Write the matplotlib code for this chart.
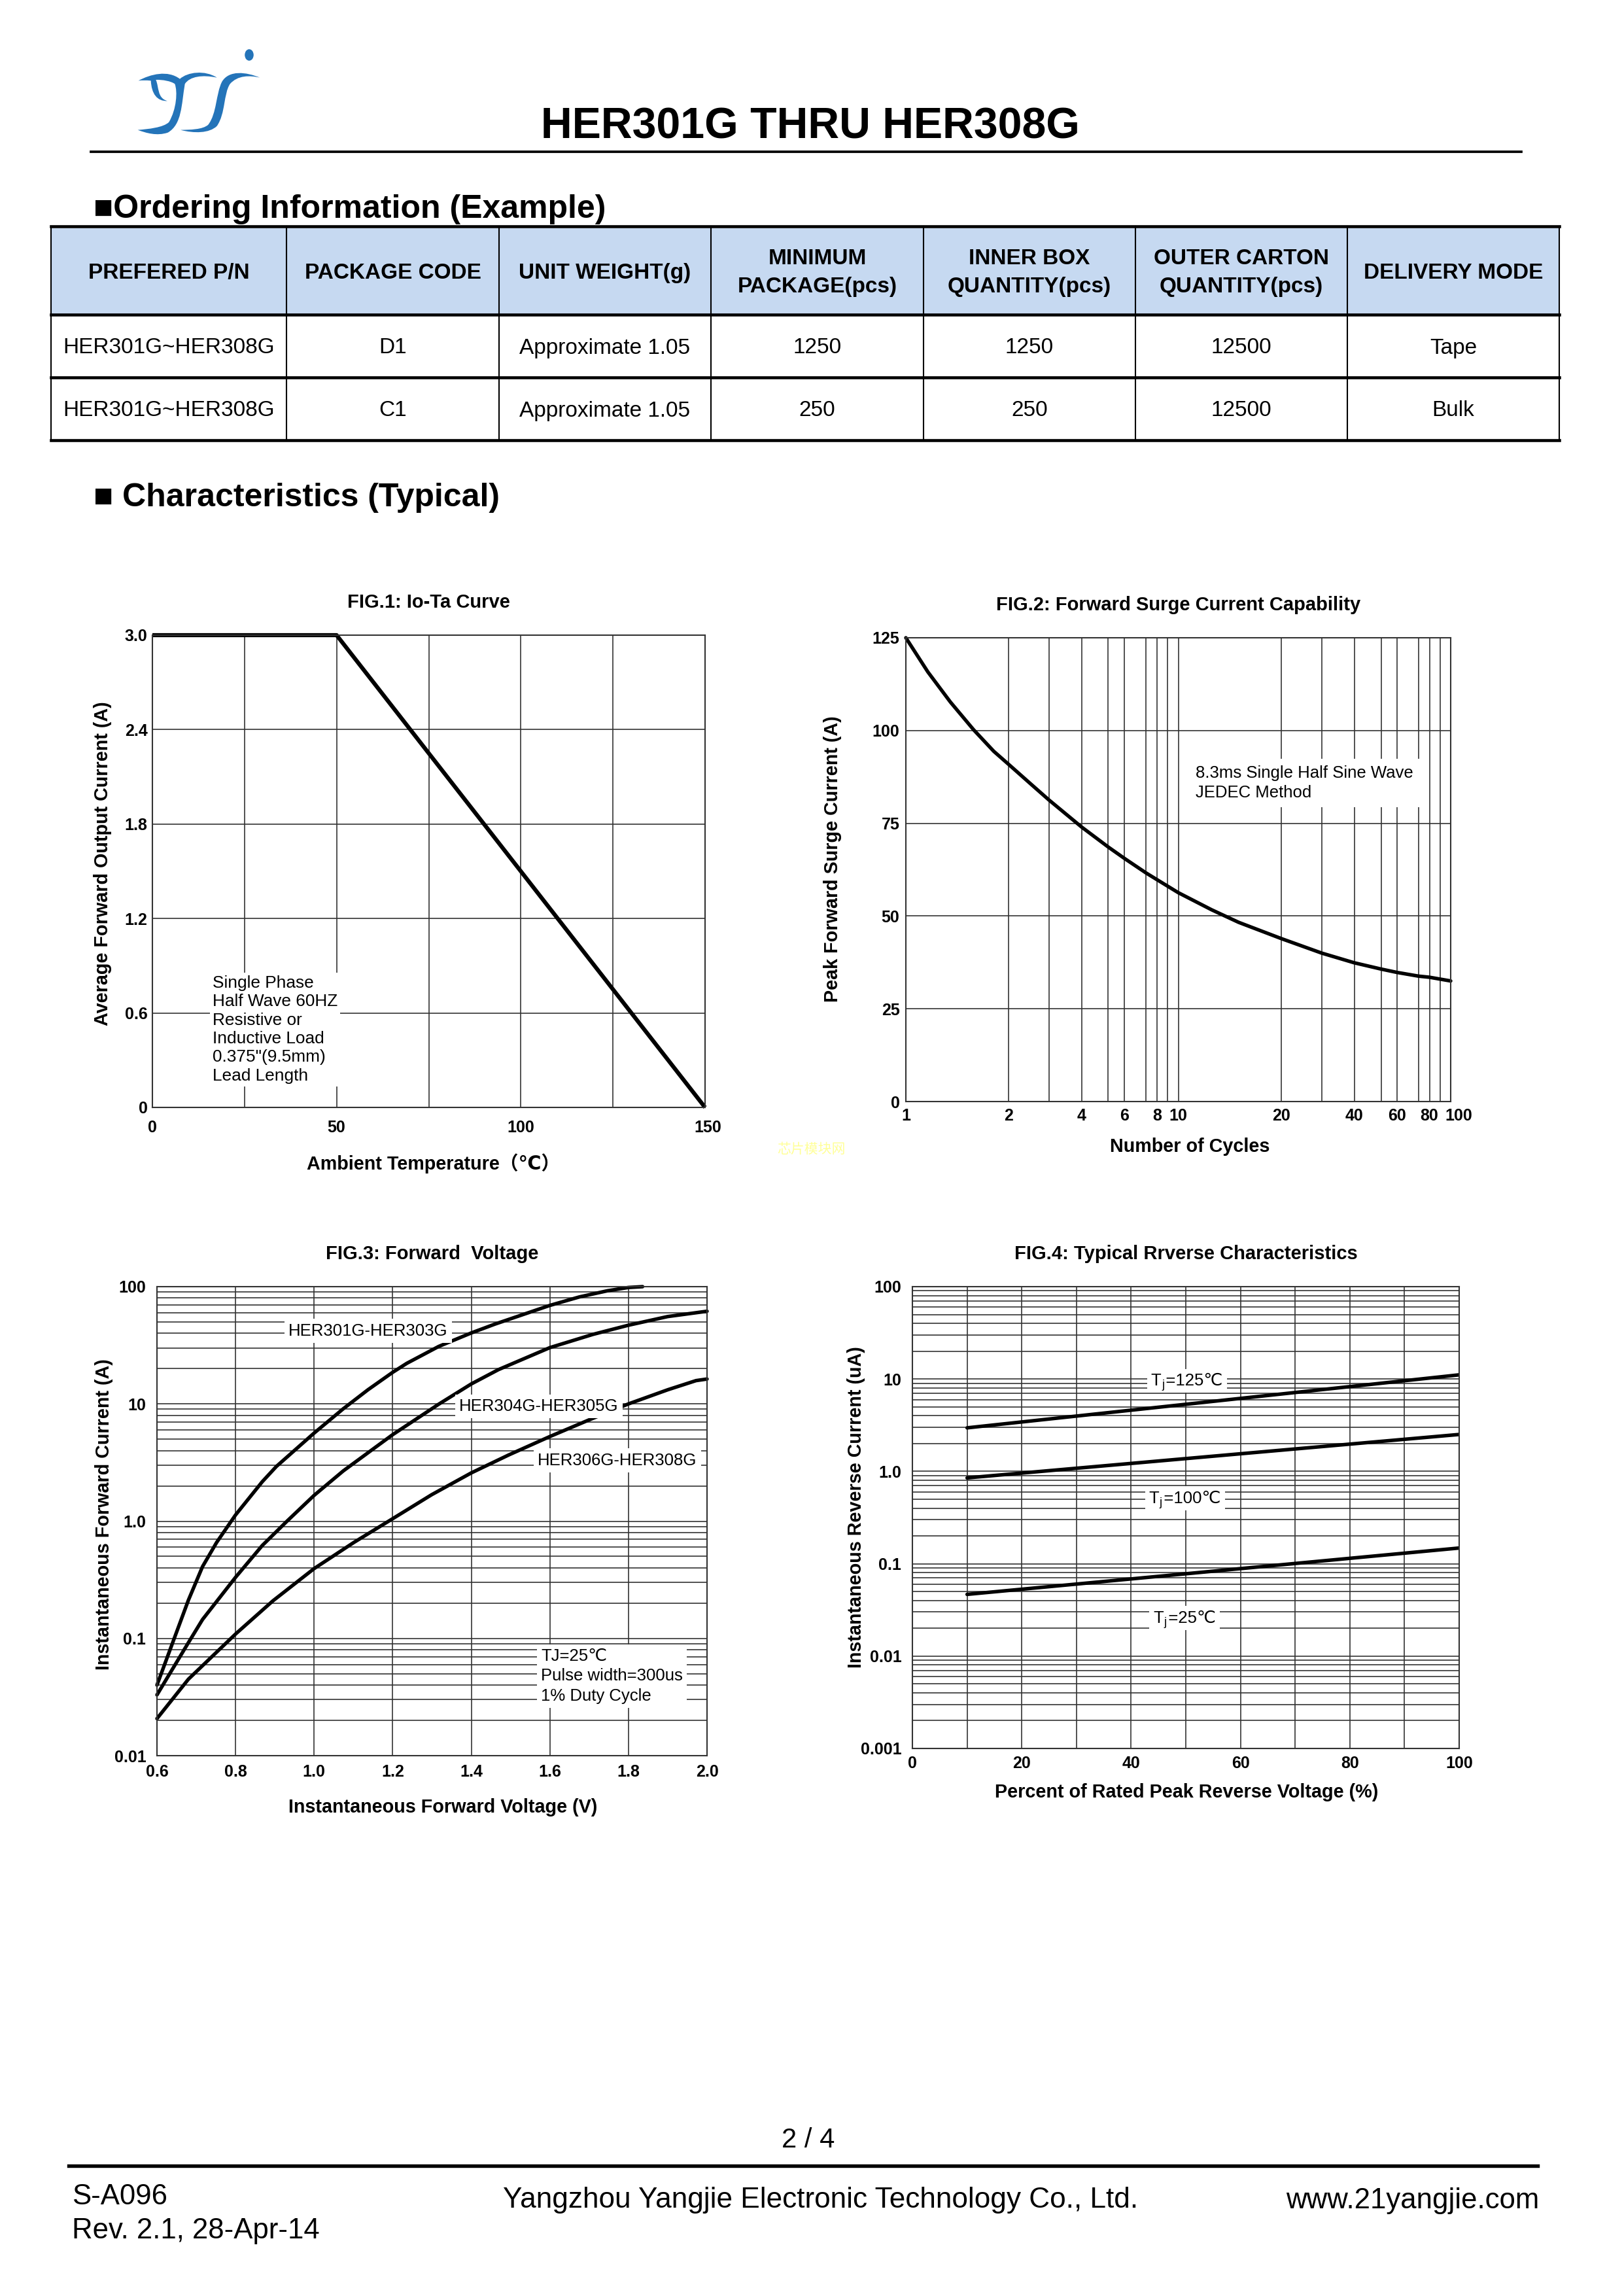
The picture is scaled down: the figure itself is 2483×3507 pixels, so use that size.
"""Page 2/4 of the HER301G THRU HER308G datasheet.

Ordering table plus the four typical characteristic curves,
redrawn with matplotlib on an A4 page (300 dpi).
"""

import numpy as np
import matplotlib
matplotlib.use('Agg')
import matplotlib.pyplot as plt
from matplotlib.path import Path
from matplotlib.patches import PathPatch, Ellipse, Rectangle
from matplotlib.ticker import FixedLocator, LogLocator, NullFormatter
from matplotlib.transforms import ScaledTranslation

W, H = 2483, 3507            # page in pixels
FONTS = ['Liberation Sans', 'DejaVu Sans', 'Noto Sans CJK SC']
plt.rcParams['font.family'] = FONTS

# <------------------------------ Data -------------------------------------->
TABLE_HEADER = ['PREFERED P/N', 'PACKAGE CODE', 'UNIT WEIGHT(g)',
                'MINIMUM\nPACKAGE(pcs)', 'INNER BOX\nQUANTITY(pcs)',
                'OUTER CARTON\nQUANTITY(pcs)', 'DELIVERY MODE']
TABLE_ROWS = [
    ['HER301G~HER308G', 'D1', 'Approximate 1.05', '1250', '1250', '12500', 'Tape'],
    ['HER301G~HER308G', 'C1', 'Approximate 1.05', '250', '250', '12500', 'Bulk'],
]

# FIG.1  Io - Ta derating
TA = [0, 50, 150]
IO = [3.0, 3.0, 0.0]

# FIG.2  surge current vs number of cycles
CYCLES = [1, 1.16, 1.35, 1.58, 1.81, 2, 2.5, 3, 4, 5, 6, 7, 8, 10, 12.5, 15,
          20, 30, 40, 50, 60, 70, 80, 100]
IFSM = [125, 115.8, 107.7, 100.2, 94.4, 90.9, 85.6, 81.3, 74.0, 68.6, 65.5,
        61.6, 59.8, 56.3, 51.7, 48.3, 43.9, 40.0, 37.4, 35.7, 34.8, 33.8, 33.5, 32.5]

# FIG.3  forward voltage curves
VF_1 = [0.6, 0.68, 0.716, 0.752, 0.8, 0.868, 0.904, 1.0, 1.074, 1.137, 1.2,
        1.236, 1.317, 1.4, 1.46, 1.6, 1.675, 1.747, 1.8, 1.836]
IF_1 = [0.040, 0.212, 0.41, 0.66, 1.13, 2.17, 2.93, 5.64, 9.08, 13.2, 18.6,
        22.2, 30.9, 40.3, 47.9, 69.2, 81.7, 92.3, 98.4, 100]
VF_2 = [0.6, 0.68, 0.716, 0.8, 0.868, 0.931, 1.0, 1.074, 1.137, 1.2, 1.317,
        1.4, 1.469, 1.6, 1.71, 1.8, 1.9, 2.0]
IF_2 = [0.033, 0.092, 0.145, 0.332, 0.62, 1.0, 1.66, 2.68, 3.83, 5.47, 9.94,
        14.8, 19.6, 30.2, 39.2, 46.9, 55.6, 61.7]
VF_3 = [0.6, 0.68, 0.8, 0.895, 1.0, 1.101, 1.2, 1.299, 1.4, 1.496, 1.6,
        1.702, 1.8, 1.9, 1.972, 2.0]
IF_3 = [0.0207, 0.0449, 0.109, 0.209, 0.394, 0.658, 1.05, 1.68, 2.58, 3.68,
        5.27, 7.36, 10.0, 13.2, 15.8, 16.3]
FV_LABELS = ['HER301G-HER303G', 'HER304G-HER305G', 'HER306G-HER308G']

# FIG.4  reverse current vs percent of VRRM
PCT = [10, 100]
IR_125 = [2.96, 11.1]
IR_100 = [0.85, 2.51]
IR_25 = [0.0466, 0.148]

GRID = dict(color='#333333', linewidth=0.4)
WHITE = dict(facecolor='white', edgecolor='none', pad=1.5)
CURVE = dict(color='black', lw=1.3, solid_joinstyle='round', solid_capstyle='round')

# Number-of-cycles axis on the original is a hand drawn log scale:
# decade fraction where each grid line 1..10 sits.
KNOT_LOG = np.log10([1, 2, 3, 4, 5, 6, 7, 8, 9, 10,
                     20, 30, 40, 50, 60, 70, 80, 90, 100])
KNOT_POS = np.array([0, .377, .525, .645, .743, .803, .882, .922, .961, 1.0,
                     1.379, 1.527, 1.646, 1.745, 1.803, 1.882, 1.922, 1.962, 2.0])


def cycles_fwd(x):
    lg = np.log10(np.clip(np.asarray(x, dtype=float), 1e-6, None))
    pos = np.interp(lg, KNOT_LOG, KNOT_POS)
    return np.where((lg < 0) | (lg > 2), lg, pos)


def cycles_inv(p):
    p = np.asarray(p, dtype=float)
    lg = np.interp(p, KNOT_POS, KNOT_LOG)
    return 10 ** np.where((p < 0) | (p > 2), p, lg)


# <------------------------------ Helpers ----------------------------------->
def px_axes(fig, left, top, right, bottom):
    """Axes from page pixel edges."""
    return fig.add_axes([left / W, 1 - bottom / H, (right - left) / W, (bottom - top) / H])


def style_axes(ax):
    for sp in ax.spines.values():
        sp.set_linewidth(0.5)
        sp.set_color('#333333')
    ax.tick_params(which='both', length=0)
    ax.set_axisbelow(True)


def set_labels(ax, xlabel, ylabel, xpos, ypos):
    ax.set_xlabel(xlabel, fontsize=6.9, fontweight='bold')
    ax.set_ylabel(ylabel, fontsize=6.9, fontweight='bold')
    ax.xaxis.label.set_verticalalignment('center')
    ax.yaxis.label.set_verticalalignment('center')
    ax.xaxis.set_label_coords(*xpos)
    ax.yaxis.set_label_coords(*ypos)


def set_title(ax, title):
    ax.set_title(title, fontsize=7.0, fontweight='bold', pad=10)


def nudge_last_xlabel(ax, dx_pt):
    lbl = ax.get_xticklabels()[-1]
    lbl.set_transform(lbl.get_transform() + ScaledTranslation(dx_pt / 72, 0, ax.figure.dpi_scale_trans))


def tj_label(ax, x, y, temp):
    """T with subscript j, then =temp℃, on a white box."""
    ax.text(x, y, f'T ={temp}℃', fontsize=6.2, ha='left', va='center',
            bbox=WHITE, zorder=4)
    ax.annotate('j', (x, y), xytext=(3.75, -1.6), textcoords='offset points',
                fontsize=4.4, ha='left', va='center', zorder=5)


def curve_path(points):
    """Closed path from a start point and cubic segments (logo pixels)."""
    verts = [points[0]]
    codes = [Path.MOVETO]
    for seg in points[1:]:
        verts.extend(seg)
        codes.extend([Path.CURVE4] * 3)
    verts.append(points[0])
    codes.append(Path.CLOSEPOLY)
    verts = [(190 + x / 3, 60 + y / 3) for x, y in verts]
    return Path(verts, codes)


# <------------------------------ Page parts -------------------------------->
def draw_logo(page):
    blue = '#2474b9'
    left_y = [(65, 190),
              [(120, 160), (200, 140), (255, 182)],
              [(290, 150), (370, 140), (425, 176)],
              [(360, 162), (300, 170), (278, 205)],
              [(262, 300), (265, 390), (200, 428)],
              [(150, 445), (100, 430), (62, 416)],
              [(110, 412), (180, 405), (205, 380)],
              [(240, 320), (245, 240), (232, 205)],
              [(215, 192), (175, 185), (145, 186)],
              [(160, 220), (150, 270), (198, 283)],
              [(150, 285), (125, 250), (122, 190)],
              [(100, 188), (80, 188), (65, 190)]]
    right_j = [(622, 176),
               [(560, 150), (480, 140), (448, 195)],
               [(420, 250), (425, 340), (385, 392)],
               [(360, 415), (300, 415), (258, 416)],
               [(320, 432), (390, 432), (425, 398)],
               [(465, 340), (455, 250), (485, 205)],
               [(520, 165), (575, 165), (622, 176)]]
    for pts in (left_y, right_j):
        page.add_patch(PathPatch(curve_path(pts), facecolor=blue, edgecolor='none'))
    page.add_patch(Ellipse((381, 84), 13.5, 17.5, facecolor=blue, edgecolor='none'))


def draw_table(page):
    cols = [78, 438, 763, 1087, 1412, 1736, 2060, 2384]
    rows = [346, 481, 577, 673]
    page.add_patch(Rectangle((cols[0], rows[0] + 3), cols[-1] - cols[0], rows[1] - rows[0] - 3,
                             facecolor='#c6d9f1', edgecolor='none'))
    for y in rows:
        page.plot([cols[0], cols[-1]], [y, y], color='black', lw=1.1)
    for x in cols:
        page.plot([x, x], [rows[0], rows[-1]], color='black', lw=0.5)
    centers = [(a + b) / 2 for a, b in zip(cols[:-1], cols[1:])]
    for cx, txt in zip(centers, TABLE_HEADER):
        page.text(cx, (rows[0] + rows[1]) / 2 + 4, txt, ha='center', va='center',
                  fontsize=8, fontweight='bold', linespacing=1.5)
    for r, row in enumerate(TABLE_ROWS):
        cy = (rows[r + 1] + rows[r + 2]) / 2 + 3
        for cx, txt in zip(centers, row):
            page.text(cx, cy, txt, ha='center', va='center', fontsize=8)


def draw_page(page):
    page.set_xlim(0, W)
    page.set_ylim(H, 0)
    page.axis('off')
    draw_logo(page)
    page.text(1239, 212, 'HER301G THRU HER308G', ha='center', va='baseline',
              fontsize=15.9, fontweight='bold')
    page.plot([139, 2326], [232, 232], color='black', lw=0.9)
    page.text(143, 333, '■Ordering Information (Example)', ha='left', va='baseline',
              fontsize=12, fontweight='bold')
    draw_table(page)
    page.text(143, 774, '■ Characteristics (Typical)', ha='left', va='baseline',
              fontsize=12, fontweight='bold')
    page.text(1240, 1757, '芯片模块网', ha='center', va='center', fontsize=5,
              color='#ffff99', family='Noto Sans CJK SC')

    page.text(1236, 3283, '2 / 4', ha='center', va='baseline', fontsize=10)
    page.plot([105, 2351], [3311, 3311], color='black', lw=1.3)
    page.text(110, 3370, 'S-A096', ha='left', va='baseline', fontsize=10.5)
    page.text(110, 3422, 'Rev. 2.1, 28-Apr-14', ha='left', va='baseline', fontsize=10.5)
    page.text(1255, 3375, 'Yangzhou Yangjie Electronic Technology Co., Ltd.',
              ha='center', va='baseline', fontsize=10.6)
    page.text(2353, 3376, 'www.21yangjie.com', ha='right', va='baseline', fontsize=10.5)


# <------------------------------ Charts ------------------------------------>
def plot_io_ta(ax):
    style_axes(ax)
    ax.plot(TA, IO, color='black', lw=1.5, clip_on=False, solid_capstyle='butt')
    ax.set_xlim(0, 150)
    ax.set_ylim(0, 3.0)
    ax.set_xticks([0, 50, 100, 150], ['0', '50', '100', '150'], fontsize=6, fontweight='bold')
    ax.set_yticks([0, 0.6, 1.2, 1.8, 2.4, 3.0], ['0', '0.6', '1.2', '1.8', '2.4', '3.0'],
                  fontsize=6, fontweight='bold')
    ax.xaxis.set_minor_locator(FixedLocator([25, 75, 125]))
    ax.grid(True, which='both', **GRID)
    ax.tick_params(axis='x', pad=4.5)
    ax.tick_params(axis='y', pad=1.8)
    nudge_last_xlabel(ax, 1.0)
    set_title(ax, 'FIG.1: Io-Ta Curve')
    set_labels(ax, 'Ambient Temperature（℃）', 'Average Forward Output Current (A)',
               (0.508, -0.118), (-0.090, 0.517))
    ax.text(16.3, 0.84, 'Single Phase\nHalf Wave 60HZ\nResistive or\nInductive Load\n'
            '0.375"(9.5mm)\nLead Length', fontsize=6.3, ha='left', va='top',
            linespacing=1.23, bbox=dict(facecolor='white', edgecolor='none', pad=1.0))


def plot_surge(ax):
    style_axes(ax)
    ax.set_xscale('function', functions=(cycles_fwd, cycles_inv))
    ax.plot(CYCLES, IFSM, clip_on=False, **CURVE)
    ax.set_xlim(1, 100)
    ax.set_ylim(0, 125)
    xt = [1, 2, 4, 6, 8, 10, 20, 40, 60, 80, 100]
    ax.xaxis.set_major_locator(FixedLocator(xt))
    ax.set_xticks(xt, [str(v) for v in xt], fontsize=6, fontweight='bold')
    ax.xaxis.set_minor_locator(FixedLocator([3, 5, 7, 9, 30, 50, 70, 90]))
    ax.xaxis.set_minor_formatter(NullFormatter())
    yt = [0, 25, 50, 75, 100, 125]
    ax.set_yticks(yt, [str(v) for v in yt], fontsize=6, fontweight='bold')
    ax.grid(True, which='both', **GRID)
    ax.tick_params(axis='x', pad=2.3)
    ax.tick_params(axis='y', pad=2.3)
    nudge_last_xlabel(ax, 3.0)
    set_title(ax, 'FIG.2: Forward Surge Current Capability')
    set_labels(ax, 'Number of Cycles', 'Peak Forward Surge Current (A)',
               (0.521, -0.098), (-0.135, 0.523))
    ax.text(0.532, 0.687, '8.3ms Single Half Sine Wave\nJEDEC Method', transform=ax.transAxes,
            fontsize=6.2, ha='left', va='center', linespacing=1.3,
            bbox=dict(facecolor='white', edgecolor='none', pad=2.5))


def log_grid(ax):
    ax.yaxis.set_minor_locator(LogLocator(base=10, subs=np.arange(2, 10), numticks=100))
    ax.yaxis.set_minor_formatter(NullFormatter())


def plot_forward(ax):
    style_axes(ax)
    ax.set_yscale('log')
    for vf, i_f in ((VF_1, IF_1), (VF_2, IF_2), (VF_3, IF_3)):
        ax.plot(vf, i_f, clip_on=False, **CURVE)
    ax.set_xlim(0.6, 2.0)
    ax.set_ylim(0.01, 100)
    xt = [0.6, 0.8, 1.0, 1.2, 1.4, 1.6, 1.8, 2.0]
    ax.set_xticks(xt, [f'{v:.1f}' for v in xt], fontsize=6, fontweight='bold')
    ax.set_yticks([0.01, 0.1, 1, 10, 100], ['0.01', '0.1', '1.0', '10', '100'],
                  fontsize=6, fontweight='bold')
    log_grid(ax)
    ax.grid(True, which='both', **GRID)
    ax.tick_params(axis='x', pad=3.2)
    ax.tick_params(axis='y', pad=4)
    set_title(ax, 'FIG.3: Forward  Voltage')
    set_labels(ax, 'Instantaneous Forward Voltage (V)', 'Instantaneous Forward Current (A)',
               (0.52, -0.110), (-0.0965, 0.514))
    for (x, y), txt in zip([(0.935, 42), (1.369, 9.5), (1.569, 3.3)], FV_LABELS):
        ax.text(x, y, txt, fontsize=6.2, ha='left', va='center', bbox=WHITE)
    ax.text(1.577, 0.0477, 'TJ=25℃\nPulse width=300us\n1% Duty Cycle', fontsize=6.2,
            ha='left', va='center', linespacing=1.35, bbox=WHITE)


def plot_reverse(ax):
    style_axes(ax)
    ax.set_yscale('log')
    for ir in (IR_125, IR_100, IR_25):
        ax.plot(PCT, ir, **CURVE)
    ax.set_xlim(0, 100)
    ax.set_ylim(0.001, 100)
    xt = [0, 20, 40, 60, 80, 100]
    ax.set_xticks(xt, [str(v) for v in xt], fontsize=6, fontweight='bold')
    ax.xaxis.set_minor_locator(FixedLocator([10, 30, 50, 70, 90]))
    ax.set_yticks([0.001, 0.01, 0.1, 1, 10, 100],
                  ['0.001', '0.01', '0.1', '1.0', '10', '100'], fontsize=6, fontweight='bold')
    log_grid(ax)
    ax.grid(True, which='both', **GRID)
    ax.tick_params(axis='x', pad=2.7)
    ax.tick_params(axis='y', pad=4)
    set_title(ax, 'FIG.4: Typical Rrverse Characteristics')
    set_labels(ax, 'Percent of Rated Peak Reverse Voltage (%)',
               'Instantaneous Reverse Current (uA)', (0.501, -0.095), (-0.103, 0.523))
    tj_label(ax, 43.7, 9.6, 125)
    tj_label(ax, 43.3, 0.51, 100)
    tj_label(ax, 44.1, 0.0259, 25)


def main():
    fig = plt.figure(figsize=(W / 300, H / 300), dpi=300)
    page = fig.add_axes([0, 0, 1, 1])
    draw_page(page)

    plot_io_ta(px_axes(fig, 233, 971, 1078, 1693))
    plot_surge(px_axes(fig, 1385, 975, 2218, 1684))
    plot_forward(px_axes(fig, 240, 1967, 1081, 2684))
    plot_reverse(px_axes(fig, 1395, 1967, 2231, 2673))

    fig.savefig('out.png', dpi=300, facecolor='white')


if __name__ == '__main__':
    main()
